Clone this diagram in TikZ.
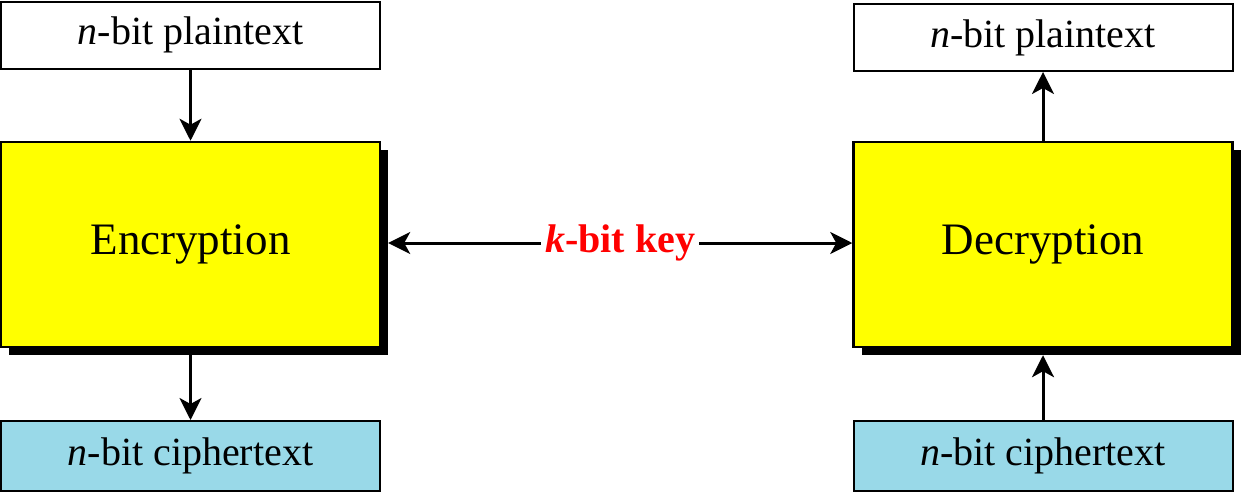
\documentclass[tikz,border=0pt]{standalone}
\usepackage{fontspec}
\setmainfont{Liberation Serif}
\usetikzlibrary{arrows.meta}
\definecolor{cbox}{RGB}{153,217,232}
\definecolor{ybox}{RGB}{255,255,0}
\definecolor{kred}{RGB}{255,0,0}
\tikzset{
  smallbox/.style={draw=black, line width=2pt, minimum width=379pt, minimum height=67pt, inner sep=0pt, font=\fontsize{40}{44}\selectfont},
  plainbox/.style={smallbox, fill=white},
  cipherbox/.style={smallbox, fill=cbox, minimum height=70pt},
  bigbox/.style={draw=black, line width=2.5pt, fill=ybox, minimum width=379pt, minimum height=205pt, inner sep=0pt, font=\fontsize{45}{50}\selectfont},
  shadowbox/.style={fill=black, minimum width=379pt, minimum height=205pt, inner sep=0pt},
  arr/.style={line width=3pt, -{Stealth[length=22pt,width=22pt,inset=6pt]}}
}
\begin{document}
\begin{tikzpicture}[x=1pt,y=-1pt]
\useasboundingbox (0,0) rectangle (1241,493);
% left column
\node[plainbox] (pt1) at (190.5,35) {\textit{n}-bit plaintext};
\node[shadowbox] (encsh) at (198.5,252.5) {};
\node[bigbox] (enc) at (190.5,244.5) {Encryption};
\node[cipherbox] (ct1) at (190.5,456) {\textit{n}-bit ciphertext};
% right column
\node[plainbox] (pt2) at (1043,37.5) {\textit{n}-bit plaintext};
\node[shadowbox] (decsh) at (1051,252.5) {};
\node[bigbox] (dec) at (1043,244.5) {Decryption};
\node[cipherbox] (ct2) at (1043,456) {\textit{n}-bit ciphertext};
% key
\node[inner sep=4pt, text=kred, font=\fontsize{40}{44}\selectfont\bfseries] (key) at (620,243) {\textit{k}-bit key};
% arrows
\draw[arr] (pt1) -- (enc);
\draw[arr] (encsh.south -| enc) -- (ct1);
\draw[arr] (dec) -- (pt2);
\draw[arr] (ct2) -- (decsh.south -| dec);
\draw[arr] (key.west) -- (encsh.east |- key.west);
\draw[arr] (key.east) -- (dec.west |- key.east);
\end{tikzpicture}
\end{document}
